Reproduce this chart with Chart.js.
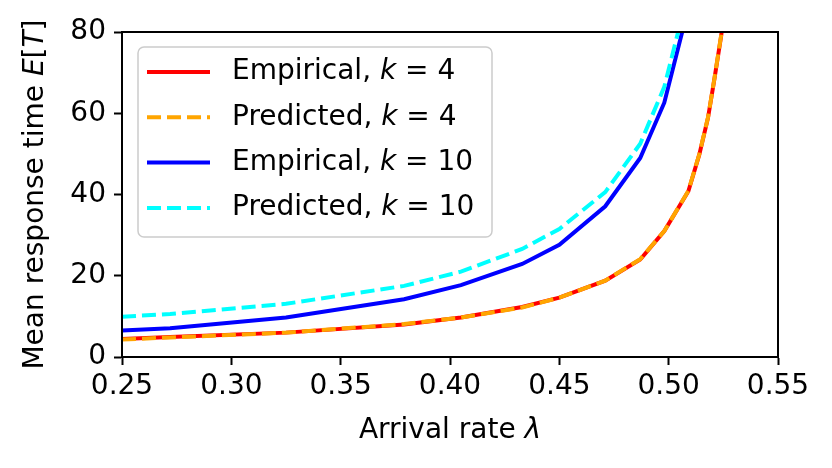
<!DOCTYPE html>
<html>
<head>
<meta charset="utf-8">
<script src="https://cdn.jsdelivr.net/npm/chart.js@4.4.1/dist/chart.umd.min.js"></script>
<style>
  html, body { margin: 0; padding: 0; background: #fff; }
  #wrap { width: 832px; height: 468px; }
</style>
</head>
<body>
<div id="wrap"><canvas id="chart" width="832" height="468"></canvas></div>
<script>
// values
const lambda4 = [0.25, 0.272, 0.325, 0.379, 0.405, 0.433, 0.450, 0.471, 0.487, 0.498, 0.509, 0.514, 0.518, 0.521, 0.524, 0.527];
const empirical4 = [4.4, 4.9, 6.0, 8.0, 9.7, 12.3, 14.6, 18.8, 24.0, 31.0, 40.8, 49.8, 58.9, 68.7, 79.0, 92.0];
const predicted4 = [4.3, 4.8, 6.0, 8.1, 9.7, 12.2, 14.6, 18.8, 24.1, 31.0, 40.9, 49.9, 59.0, 68.8, 79.2, 92.3];

const lambda10 = [0.25, 0.272, 0.325, 0.379, 0.405, 0.433, 0.450, 0.471, 0.487, 0.498, 0.509];
const empirical10 = [6.5, 7.1, 9.7, 14.2, 17.7, 22.9, 27.6, 37.1, 49.0, 62.6, 86.0];
const predicted10 = [9.9, 10.6, 13.1, 17.5, 21.0, 26.6, 31.5, 40.6, 52.5, 66.5, 90.0];

const xTicks = [0.25, 0.30, 0.35, 0.40, 0.45, 0.50, 0.55];
const yTicks = [0, 20, 40, 60, 80];

const FONT = '"DejaVu Sans", sans-serif';
const FSIZE = 28;
const LW = 4;
const DASH = [14, 6];

function pts(xs, ys) {
  return xs.map((x, i) => ({ x: x, y: ys[i] }));
}

// draw a list of [text, italic] pieces starting at x (left aligned) or centred
function drawRich(ctx, parts, x, y, center) {
  let total = 0;
  parts.forEach(p => {
    ctx.font = (p[1] ? 'italic ' : '') + FSIZE + 'px ' + FONT;
    total += ctx.measureText(p[0]).width;
  });
  let cx = center ? x - total / 2 : x;
  parts.forEach(p => {
    ctx.font = (p[1] ? 'italic ' : '') + FSIZE + 'px ' + FONT;
    ctx.fillText(p[0], cx, y);
    cx += ctx.measureText(p[0]).width;
  });
}

function labelParts(label) {
  const i = label.indexOf('k');
  return [[label.slice(0, i), false], ['k', true], [label.slice(i + 1), false]];
}

const decorations = {
  id: 'decorations',
  afterDatasetsDraw(chart) {
    const ctx = chart.ctx;
    const a = chart.chartArea;
    ctx.save();
    // top + right spines
    ctx.strokeStyle = '#000';
    ctx.lineWidth = 2;
    ctx.strokeRect(a.left, a.top, a.right - a.left, a.bottom - a.top);

    // legend box
    const bx = 138, by = 47, bw = 354, bh = 190, r = 6;
    ctx.beginPath();
    ctx.moveTo(bx + r, by);
    ctx.arcTo(bx + bw, by, bx + bw, by + bh, r);
    ctx.arcTo(bx + bw, by + bh, bx, by + bh, r);
    ctx.arcTo(bx, by + bh, bx, by, r);
    ctx.arcTo(bx, by, bx + bw, by, r);
    ctx.closePath();
    ctx.fillStyle = 'rgba(255,255,255,0.8)';
    ctx.fill();
    ctx.strokeStyle = '#cccccc';
    ctx.lineWidth = 1.5;
    ctx.stroke();

    ctx.textBaseline = 'middle';
    ctx.fillStyle = '#000';
    chart.data.datasets.forEach((ds, i) => {
      const ry = 72 + i * 45.3;
      ctx.beginPath();
      ctx.setLineDash(ds.borderDash || []);
      ctx.strokeStyle = ds.borderColor;
      ctx.lineWidth = ds.borderWidth;
      ctx.moveTo(147, ry);
      ctx.lineTo(210, ry);
      ctx.stroke();
      ctx.setLineDash([]);
      drawRich(ctx, labelParts(ds.label), 232, ry, false);
    });

    // axis titles
    ctx.textBaseline = 'alphabetic';
    drawRich(ctx, [['Arrival rate ', false], ['λ', true]], (a.left + a.right) / 2, 438, true);
    ctx.translate(43, (a.top + a.bottom) / 2);
    ctx.rotate(-Math.PI / 2);
    drawRich(ctx, [['Mean response time ', false], ['E', true], ['[', false], ['T', true], [']', false]], 0, 0, true);
    ctx.restore();
  }
};

new Chart(document.getElementById('chart'), {
  type: 'line',
  data: {
    datasets: [
      { label: 'Empirical, k = 4', data: pts(lambda4, empirical4), borderColor: '#ff0000', borderWidth: LW, order: 4 },
      { label: 'Predicted, k = 4', data: pts(lambda4, predicted4), borderColor: '#ffa500', borderWidth: LW, borderDash: DASH, order: 3 },
      { label: 'Empirical, k = 10', data: pts(lambda10, empirical10), borderColor: '#0000ff', borderWidth: LW, order: 2 },
      { label: 'Predicted, k = 10', data: pts(lambda10, predicted10), borderColor: '#00ffff', borderWidth: LW, borderDash: DASH, order: 1 }
    ]
  },
  options: {
    responsive: false,
    animation: false,
    devicePixelRatio: 1,
    clip: 0,
    layout: { padding: { top: 32, right: 54, left: 0, bottom: 0 } },
    elements: { point: { radius: 0 }, line: { tension: 0, fill: false } },
    plugins: { legend: { display: false }, tooltip: { enabled: false } },
    scales: {
      x: {
        type: 'linear',
        min: 0.25,
        max: 0.55,
        afterBuildTicks: s => { s.ticks = xTicks.map(v => ({ value: v })); },
        afterFit: s => { s.height = 111; },
        grid: { drawOnChartArea: false, drawTicks: true, tickLength: 8, tickWidth: 2, tickColor: '#000' },
        border: { display: true, color: '#000', width: 2 },
        ticks: {
          color: '#000',
          padding: 5,
          maxRotation: 0,
          font: { family: FONT, size: FSIZE },
          callback: v => Number(v).toFixed(2)
        }
      },
      y: {
        min: 0,
        max: 80,
        afterBuildTicks: s => { s.ticks = yTicks.map(v => ({ value: v })); },
        afterFit: s => { s.width = 122; },
        grid: { drawOnChartArea: false, drawTicks: true, tickLength: 8, tickWidth: 2, tickColor: '#000' },
        border: { display: true, color: '#000', width: 2 },
        ticks: {
          color: '#000',
          padding: 8,
          font: { family: FONT, size: FSIZE },
          callback: v => String(v)
        }
      }
    }
  },
  plugins: [decorations]
});
</script>
</body>
</html>
